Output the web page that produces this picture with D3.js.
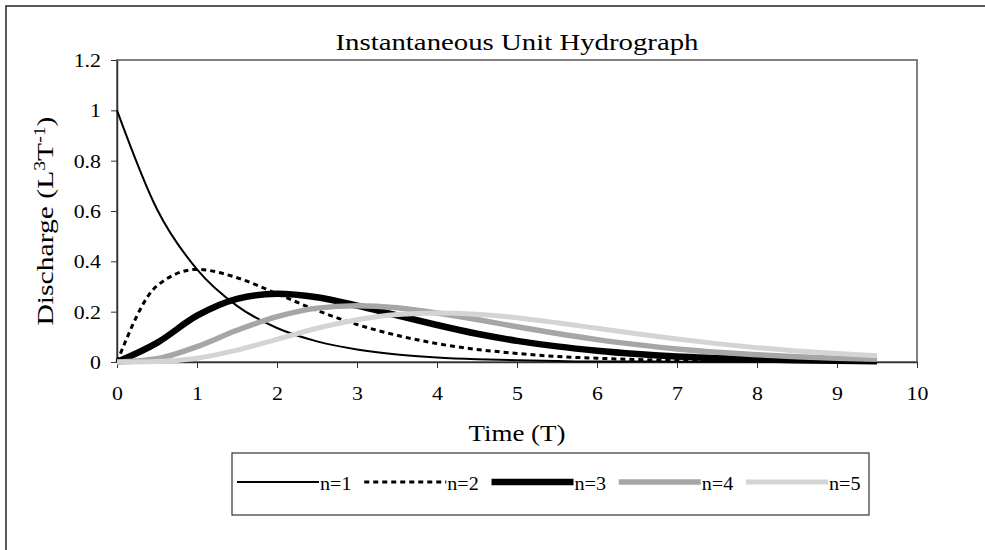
<!DOCTYPE html>
<html lang="en">
<head>
<meta charset="UTF-8">
<title>Instantaneous Unit Hydrograph</title>
<script src="https://d3js.org/d3.v7.min.js"></script>
<style>
    body {
        margin: 0;
        background: #fff;
    }
    svg {
        display: block;
        font-family: "Liberation Serif", "Times New Roman", serif;
    }
</style>
</head>
<body>
<svg id="chart" width="985" height="550"></svg>
<script>
// values (time step 0.5)
const time = [0, 0.5, 1, 1.5, 2, 2.5, 3, 3.5, 4, 4.5, 5, 5.5, 6, 6.5, 7, 7.5, 8, 8.5, 9, 9.5];
const n1 = [1, 0.607, 0.368, 0.223, 0.135, 0.082, 0.050, 0.030, 0.018, 0.011, 0.007, 0.004, 0.002, 0.002, 0.001, 0.001, 0, 0, 0, 0];
const n2 = [0, 0.303, 0.368, 0.335, 0.271, 0.205, 0.149, 0.106, 0.073, 0.050, 0.034, 0.022, 0.015, 0.010, 0.006, 0.004, 0.003, 0.002, 0.001, 0.001];
const n3 = [0, 0.076, 0.184, 0.251, 0.271, 0.257, 0.224, 0.185, 0.147, 0.112, 0.084, 0.062, 0.045, 0.032, 0.022, 0.016, 0.011, 0.007, 0.005, 0.003];
const n4 = [0, 0.013, 0.061, 0.126, 0.180, 0.214, 0.224, 0.216, 0.195, 0.169, 0.140, 0.113, 0.089, 0.069, 0.052, 0.039, 0.029, 0.021, 0.015, 0.011];
const n5 = [0, 0.002, 0.015, 0.047, 0.090, 0.134, 0.168, 0.189, 0.195, 0.190, 0.176, 0.156, 0.134, 0.112, 0.091, 0.073, 0.057, 0.044, 0.034, 0.025];
const seriesNames = ["n=1", "n=2", "n=3", "n=4", "n=5"];
const xTicks = [0, 1, 2, 3, 4, 5, 6, 7, 8, 9, 10];
const yTicks = [0, 0.2, 0.4, 0.6, 0.8, 1, 1.2];

const styles = [
    { color: "#000", width: 2, dash: null },
    { color: "#000", width: 3, dash: "5,4" },
    { color: "#000", width: 6.5, dash: null },
    { color: "#a6a6a6", width: 5.5, dash: null },
    { color: "#d4d4d4", width: 5, dash: null }
];

const series = [n1, n2, n3, n4, n5].map((vals, i) => ({
    name: seriesNames[i],
    style: styles[i],
    points: vals.map((v, j) => ({ t: time[j], q: v }))
}));

const svg = d3.select("#chart");
const plot = { left: 117, top: 60, right: 917, bottom: 362 };

const x = d3.scaleLinear().domain([0, 10]).range([plot.left, plot.right]);
const y = d3.scaleLinear().domain([0, 1.2]).range([plot.bottom, plot.top]);

// chart area border (only top and left are visible in the window)
svg.append("rect")
    .attr("x", 6).attr("y", 6)
    .attr("width", 1000).attr("height", 600)
    .attr("fill", "none")
    .attr("stroke", "#222")
    .attr("stroke-width", 1.5);

// plot area border
svg.append("rect")
    .attr("x", plot.left).attr("y", plot.top)
    .attr("width", plot.right - plot.left).attr("height", plot.bottom - plot.top)
    .attr("fill", "none")
    .attr("stroke", "#808080")
    .attr("stroke-width", 2);

// axes
const xAxis = svg.append("g")
    .attr("transform", `translate(0,${plot.bottom})`)
    .call(d3.axisBottom(x).tickValues(xTicks).tickSize(6).tickSizeOuter(0).tickFormat(d3.format("d")));
const yAxis = svg.append("g")
    .attr("transform", `translate(${plot.left},0)`)
    .call(d3.axisLeft(y).tickValues(yTicks).tickSize(6).tickSizeOuter(0).tickFormat(d => String(d)));

[xAxis, yAxis].forEach(a => {
    a.select(".domain").attr("stroke", "#333").attr("stroke-width", 1.5);
    a.selectAll(".tick line").attr("stroke", "#333");
    a.selectAll(".tick text")
        .attr("fill", "#000")
        .style("font-family", "'Liberation Serif', 'Times New Roman', serif")
        .attr("font-size", 19);
});
xAxis.selectAll(".tick text")
    .attr("y", null).attr("dy", null)
    .attr("transform", "translate(0,38) scale(1.15,1)");
yAxis.selectAll(".tick text")
    .attr("x", null).attr("dy", "0.35em")
    .attr("transform", "translate(-16,0) scale(1.15,1)");

// curves
const line = d3.line()
    .x(d => x(d.t))
    .y(d => y(d.q))
    .curve(d3.curveMonotoneX);

svg.append("g")
    .selectAll("path")
    .data(series)
    .join("path")
    .attr("d", d => line(d.points))
    .attr("fill", "none")
    .attr("stroke", d => d.style.color)
    .attr("stroke-width", d => d.style.width)
    .attr("stroke-dasharray", d => d.style.dash)
    .attr("stroke-linejoin", "round");

// title
svg.append("text")
    .attr("x", 517).attr("y", 50)
    .attr("text-anchor", "middle")
    .attr("font-size", 24)
    .attr("textLength", 363)
    .attr("lengthAdjust", "spacingAndGlyphs")
    .text("Instantaneous Unit Hydrograph");

// x label
svg.append("text")
    .attr("x", 517).attr("y", 441)
    .attr("text-anchor", "middle")
    .attr("font-size", 24)
    .attr("textLength", 97)
    .attr("lengthAdjust", "spacingAndGlyphs")
    .text("Time (T)");

// y label with superscripts
const yLab = svg.append("text")
    .attr("transform", "translate(53,221) rotate(-90)")
    .attr("text-anchor", "middle")
    .attr("font-size", 24)
    .attr("textLength", 209)
    .attr("lengthAdjust", "spacingAndGlyphs");
yLab.append("tspan").text("Discharge (L");
yLab.append("tspan").attr("baseline-shift", "super").attr("font-size", 16).text("3");
yLab.append("tspan").text("T");
yLab.append("tspan").attr("baseline-shift", "super").attr("font-size", 16).text("-1");
yLab.append("tspan").text(")");

// legend
const legend = svg.append("g");
legend.append("rect")
    .attr("x", 232).attr("y", 453)
    .attr("width", 637).attr("height", 62)
    .attr("fill", "#fff")
    .attr("stroke", "#333")
    .attr("stroke-width", 1.2);

const lx = d3.scaleLinear().domain([0, 4]).range([237, 746]);
const item = legend.selectAll("g.item")
    .data(series)
    .join("g")
    .attr("class", "item")
    .attr("transform", (d, i) => `translate(${lx(i)},482)`);
item.append("line")
    .attr("x1", 0).attr("x2", 82)
    .attr("stroke", d => d.style.color)
    .attr("stroke-width", d => d.style.width)
    .attr("stroke-dasharray", d => d.style.dash);
item.append("text")
    .attr("transform", "translate(83,8) scale(1.12,1)")
    .attr("font-size", 18)
    .text(d => d.name);
</script>
</body>
</html>
